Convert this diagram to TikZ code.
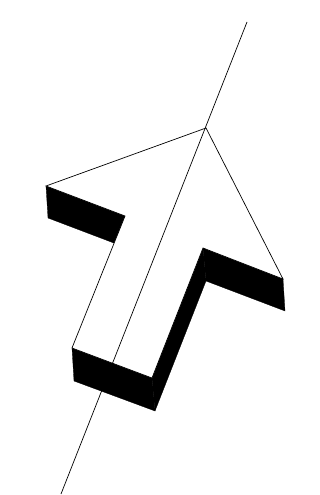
\documentclass[tikz,border=0pt]{standalone}
\begin{document}
\begin{tikzpicture}[x=1pt,y=-1pt,
  side/.style={fill=black,draw=black,line width=0.3pt,line join=round},
  face/.style={fill=white,draw=black,line width=0.7pt,line join=miter},
  axisline/.style={draw=black,line width=0.7pt}]
\useasboundingbox (0,0) rectangle (320,495);
% top face corners
\coordinate (T) at (206,128);
\coordinate (L) at (46,186);
\coordinate (N1) at (125,216);
\coordinate (B1) at (72,348);
\coordinate (B2) at (152,378);
\coordinate (N2) at (203,248);
\coordinate (R) at (283,279);
% extruded corners
\coordinate (Ls) at (48,218);
\coordinate (N1s) at (127,248);
\coordinate (B1s) at (74,381);
\coordinate (B2s) at (155,411);
\coordinate (N2s) at (206,281);
\coordinate (Rs) at (285,311);
% axis ends
\coordinate (A1) at (247,22);
\coordinate (A2) at (61,494);
% side faces
\fill[side] (L) -- (N1) -- (N1s) -- (Ls) -- cycle;
\fill[side] (B1) -- (B2) -- (B2s) -- (B1s) -- cycle;
\fill[side] (B2) -- (N2) -- (N2s) -- (B2s) -- cycle;
\fill[side] (N2) -- (R) -- (Rs) -- (N2s) -- cycle;
% top face
\path[face] (T) -- (L) -- (N1) -- (B1) -- (B2) -- (N2) -- (R) -- cycle;
% axis
\draw[axisline] (A1) -- (A2);
\end{tikzpicture}
\end{document}
